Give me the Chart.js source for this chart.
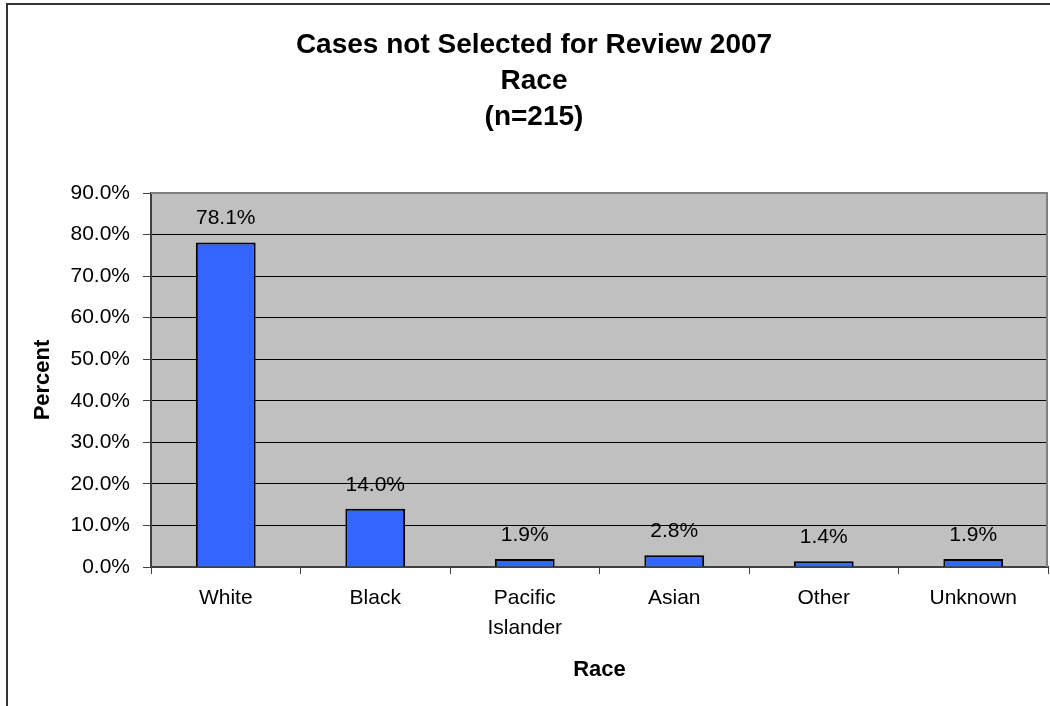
<!DOCTYPE html>
<html lang="en">
<head>
    <meta charset="UTF-8">
    <title>Cases not Selected for Review 2007 - Race</title>
    <script src="https://cdn.jsdelivr.net/npm/chart.js@4.4.0/dist/chart.umd.min.js"></script>
    <style>
        * { margin: 0; padding: 0; box-sizing: border-box; }
        body { background: #fff; overflow: hidden; }
        #chart { display: block; }
    </style>
</head>
<body>
    <canvas id="chart" width="1050" height="706"></canvas>
    <script>
        // chart data
        const categories = ['White', 'Black', ['Pacific', 'Islander'], 'Asian', 'Other', 'Unknown'];
        const percentValues = [78.1, 14.0, 1.9, 2.8, 1.4, 1.9];
        const titleLines = ['Cases not Selected for Review 2007', 'Race', '(n=215)'];
        const yTickMax = 90;
        const yTickStep = 10;

        Chart.defaults.font.family = "'Liberation Sans', Arial, sans-serif";
        Chart.defaults.color = '#000';

        // grey plot area + frame around the chart
        const frame = {
            id: 'frame',
            beforeDraw(chart) {
                const { ctx, chartArea: a } = chart;
                ctx.save();
                ctx.fillStyle = '#fff';
                ctx.fillRect(0, 0, chart.width, chart.height);
                ctx.fillStyle = '#C0C0C0';
                ctx.fillRect(a.left, a.top, a.right - a.left, a.bottom - a.top);
                ctx.strokeStyle = '#333';
                ctx.lineWidth = 2;
                ctx.beginPath();
                ctx.moveTo(7, chart.height);
                ctx.lineTo(7, 4);
                ctx.lineTo(chart.width, 4);
                ctx.stroke();
                ctx.restore();
            },
            beforeDatasetsDraw(chart) {
                const { ctx, chartArea: a } = chart;
                ctx.save();
                ctx.strokeStyle = '#808080';
                ctx.lineWidth = 2;
                ctx.beginPath();
                ctx.moveTo(a.left, a.top);
                ctx.lineTo(a.right - 1, a.top);
                ctx.lineTo(a.right - 1, a.bottom);
                ctx.stroke();
                ctx.restore();
            }
        };

        // value labels above the bars
        const valueLabels = {
            id: 'valueLabels',
            afterDatasetsDraw(chart) {
                const { ctx } = chart;
                const meta = chart.getDatasetMeta(0);
                ctx.save();
                ctx.font = "21px 'Liberation Sans', Arial, sans-serif";
                ctx.fillStyle = '#000';
                ctx.textAlign = 'center';
                ctx.textBaseline = 'middle';
                meta.data.forEach((bar, i) => {
                    ctx.fillText(percentValues[i].toFixed(1) + '%', bar.x, bar.y - 24);
                });
                ctx.restore();
            }
        };

        new Chart(document.getElementById('chart'), {
            type: 'bar',
            data: {
                labels: categories,
                datasets: [{
                    data: percentValues,
                    backgroundColor: '#3366FF',
                    borderColor: '#000',
                    borderWidth: 2,
                    categoryPercentage: 1,
                    barPercentage: 0.4
                }]
            },
            options: {
                responsive: false,
                animation: false,
                layout: { padding: { left: 20, right: 2, top: 0, bottom: 0 } },
                plugins: {
                    legend: { display: false },
                    tooltip: { enabled: false },
                    title: {
                        display: true,
                        text: titleLines,
                        color: '#000',
                        font: { size: 28, weight: 'bold', lineHeight: 1.286 },
                        padding: { top: 27, bottom: 58 }
                    }
                },
                scales: {
                    x: {
                        grid: {
                            offset: true,
                            drawOnChartArea: false,
                            tickLength: 7,
                            tickColor: '#404040'
                        },
                        border: { color: '#404040', width: 2 },
                        ticks: {
                            padding: 9,
                            maxRotation: 0,
                            autoSkip: false,
                            font: { size: 21, lineHeight: 1.43 }
                        },
                        title: {
                            display: true,
                            text: 'Race',
                            font: { size: 22, weight: 'bold' },
                            padding: { top: 4, bottom: 23 }
                        },
                        afterFit(scale) { scale.height = 139; }
                    },
                    y: {
                        min: 0,
                        max: yTickMax,
                        ticks: {
                            stepSize: yTickStep,
                            padding: 13,
                            font: { size: 21 },
                            callback: v => v.toFixed(1) + '%'
                        },
                        grid: {
                            color: '#000',
                            lineWidth: 1,
                            tickLength: 8,
                            tickColor: '#404040'
                        },
                        border: { color: '#404040', width: 2 },
                        title: {
                            display: true,
                            text: 'Percent',
                            font: { size: 22, weight: 'bold' },
                            padding: { top: 10, bottom: 4 }
                        },
                        afterFit(scale) { scale.width = 131; }
                    }
                }
            },
            plugins: [frame, valueLabels]
        });
    </script>
</body>
</html>
